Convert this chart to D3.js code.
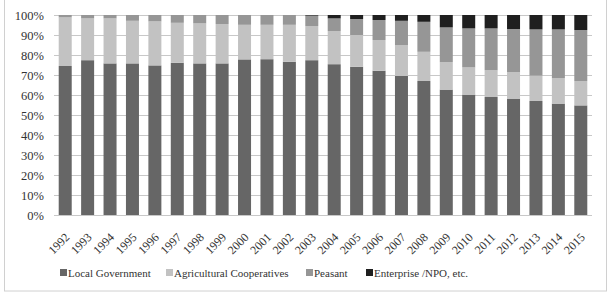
<!DOCTYPE html>
<html>
<head>
<meta charset="utf-8">
<script src="https://cdn.jsdelivr.net/npm/d3@7"></script>
<style>
  body { margin: 0; background: #fff; }
  svg text { font-family: "Liberation Serif", "Times New Roman", "DejaVu Serif", serif !important; fill: #333; }
</style>
</head>
<body>
<svg id="chart"></svg>
<script>
const years = ['1992','1993','1994','1995','1996','1997','1998','1999','2000','2001','2002','2003',
               '2004','2005','2006','2007','2008','2009','2010','2011','2012','2013','2014','2015']
const seriesNames = ['Local Government', 'Agricultural Cooperatives', 'Peasant', 'Enterprise /NPO, etc.']
const seriesColors = ['#666666', '#c2c2c2', '#969696', '#1f1f1f']

// shares in percent
const localGov   = [74.5, 77.4, 75.8, 75.8, 74.8, 76.1, 75.8, 75.8, 77.8, 77.9, 76.6, 77.4,
                    75.4, 74.1, 72.1, 69.5, 67.0, 62.7, 60.2, 59.0, 58.2, 57.0, 55.7, 54.8]
const coops      = [24.3, 20.9, 22.5, 21.3, 22.0, 20.0, 20.0, 19.7, 17.3, 17.2, 18.5, 17.1,
                    16.6, 15.9, 15.4, 15.5, 14.6, 13.7, 13.6, 13.4, 13.2, 12.7, 12.7, 12.2]
const peasant    = [1.2, 1.7, 1.7, 2.9, 3.2, 3.9, 4.2, 4.5, 4.9, 4.9, 4.9, 5.2,
                    6.3, 8.0, 10.0, 12.1, 15.0, 17.4, 19.5, 20.9, 21.6, 23.1, 24.4, 25.5]
const enterprise = [0, 0, 0, 0, 0, 0, 0, 0, 0, 0, 0, 0.3,
                    1.7, 2.0, 2.5, 2.9, 3.4, 6.2, 6.7, 6.7, 7.0, 7.2, 7.2, 7.5]
const yTicks = [0, 10, 20, 30, 40, 50, 60, 70, 80, 90, 100]

const width = 611, height = 297
const margin = {top: 15, right: 19, bottom: 82, left: 54}

const svg = d3.select('#chart').attr('width', width).attr('height', height)

// outer frame
svg.append('rect')
    .attr('x', 4.5).attr('y', -1).attr('width', 602).attr('height', 292)
    .attr('fill', 'none').attr('stroke', '#d0d0d0')

const g = svg.append('g').attr('transform', `translate(${margin.left}, ${margin.top})`)
const w = width - margin.left - margin.right
const h = height - margin.top - margin.bottom

const rows = years.map((year, i) => ({
    year,
    [seriesNames[0]]: localGov[i],
    [seriesNames[1]]: coops[i],
    [seriesNames[2]]: peasant[i],
    [seriesNames[3]]: enterprise[i]
}))

const stack = d3.stack().keys(seriesNames).offset(d3.stackOffsetExpand)
const layers = stack(rows)

const x = d3.scaleBand().domain(years).range([0, w]).paddingInner(0.42).paddingOuter(0.21)
const y = d3.scaleLinear().domain([0, 1]).range([h, 0])
const color = d3.scaleOrdinal().domain(seriesNames).range(seriesColors)

// gridlines + y labels
const yAxis = g.append('g')
    .call(d3.axisLeft(y).tickValues(yTicks.map(t => t / 100)).tickSize(-w)
        .tickFormat(d => `${Math.round(d * 100)}%`))
yAxis.select('.domain').remove()
yAxis.selectAll('.tick line').attr('stroke', '#c8c8c8').attr('stroke-width', 1)
yAxis.selectAll('.tick text').attr('x', -10).style('font-size', '12.5px')

// bars
g.append('g').selectAll('g').data(layers).enter().append('g')
    .attr('fill', d => color(d.key))
    .selectAll('rect').data(d => d).enter().append('rect')
    .attr('x', d => x(d.data.year))
    .attr('width', x.bandwidth())
    .attr('y', d => y(d[1]))
    .attr('height', d => y(d[0]) - y(d[1]))

// x labels
const xAxis = g.append('g').attr('transform', `translate(0, ${h})`)
    .call(d3.axisBottom(x).tickSize(0))
xAxis.select('.domain').remove()
xAxis.selectAll('.tick text')
    .style('font-size', '12px')
    .attr('x', 0).attr('y', 0)
    .attr('text-anchor', 'end')
    .attr('dy', '0.35em')
    .attr('transform', 'translate(2, 20) rotate(-45)')

// legend
const legendX = [60, 166, 306, 366]
const legend = svg.append('g').selectAll('g').data(seriesNames).enter().append('g')
    .attr('transform', (d, i) => `translate(${legendX[i]}, 273)`)
legend.append('rect')
    .attr('x', 0).attr('y', -4).attr('width', 7).attr('height', 7)
    .attr('fill', d => color(d))
legend.append('text')
    .attr('x', 8).attr('y', 0).attr('dy', '0.35em')
    .style('font-size', '11px')
    .text(d => d)
</script>
</body>
</html>
